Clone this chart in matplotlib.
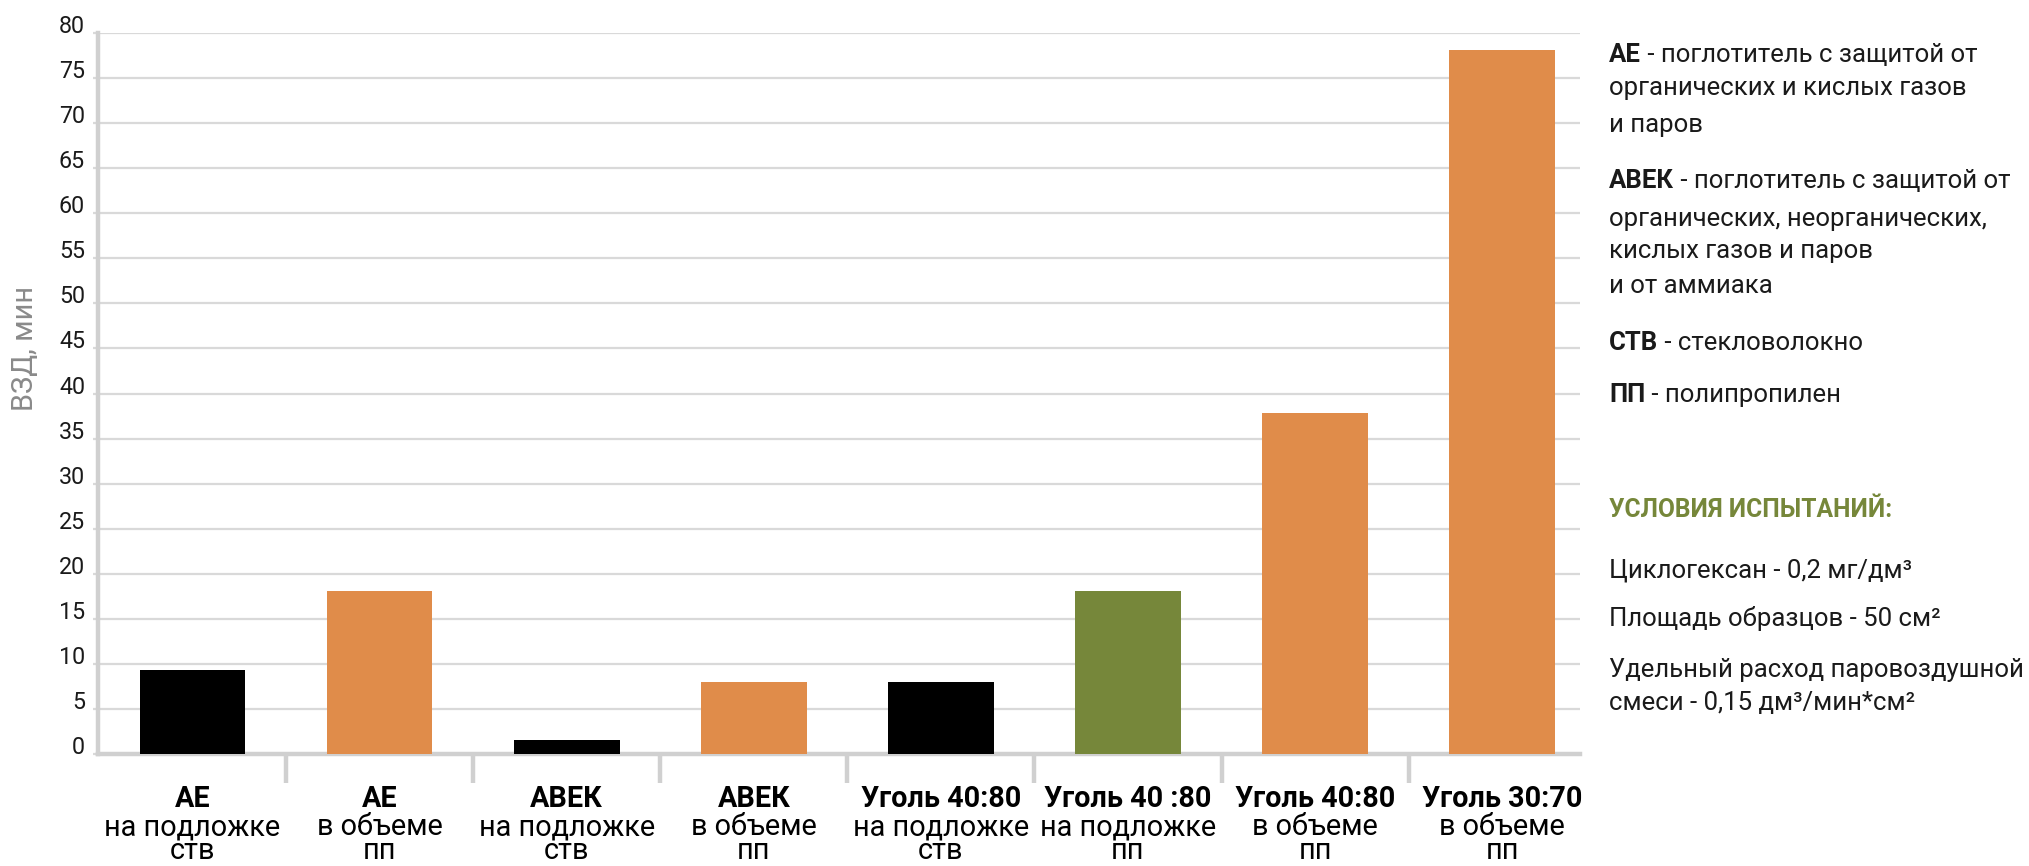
import matplotlib
matplotlib.use('Agg')
import matplotlib.pyplot as plt
from matplotlib.transforms import blended_transform_factory
import numpy as np

# ---------------- data ----------------
cat_bold = ['АЕ', 'АЕ', 'АВЕК', 'АВЕК', 'Уголь 40:80', 'Уголь 40 :80', 'Уголь 40:80', 'Уголь 30:70']
cat_line2 = ['на подложке', 'в объеме', 'на подложке', 'в объеме', 'на подложке', 'на подложке', 'в объеме', 'в объеме']
cat_line3 = ['ств', 'пп', 'ств', 'пп', 'ств', 'пп', 'пп', 'пп']
values = [9.3, 18.1, 1.5, 8.0, 8.0, 18.1, 37.8, 78.1]
bar_colors = ['#000000', '#E08C4A', '#000000', '#E08C4A', '#000000', '#76873A', '#E08C4A', '#E08C4A']
y_ticks = list(range(0, 81, 5))
y_label = 'ВЗД, мин'

legend_bold = ['АЕ', '', '', 'АВЕК', '', '', '', 'СТВ', 'ПП']
legend_rest = [' - поглотитель с защитой от', 'органических и кислых газов', 'и паров',
               ' - поглотитель с защитой от', 'органических, неорганических,',
               'кислых газов и паров', 'и от аммиака', ' - стекловолокно', ' - полипропилен']
cond_title = 'УСЛОВИЯ ИСПЫТАНИЙ:'
cond_lines = ['Циклогексан - 0,2 мг/дм³', 'Площадь образцов - 50 см²',
              'Удельный расход паровоздушной', 'смеси - 0,15 дм³/мин*см²']

# ---------------- layout ----------------
W, H = 2029, 866
FONT = 'Roboto'
plt.rcParams['font.family'] = [FONT, 'DejaVu Sans']
TXT = '#1a1a1a'
GRID = '#d9d9d9'
AXC = '#d0d0d0'

fig = plt.figure(figsize=(W / 100, H / 100), dpi=100)
fig.patch.set_facecolor('white')
ax = fig.add_axes([98 / W, 1 - 754 / H, (1580 - 98) / W, (754 - 33) / H])

x = np.arange(len(values))
ax.bar(x, values, width=0.565, color=bar_colors, zorder=3)
ax.set_xlim(-0.505, 7.416)
ax.set_ylim(0, 80)
ax.set_yticks(y_ticks)
ax.yaxis.grid(True, color=GRID, lw=1.6)
ax.set_axisbelow(True)
ax.tick_params(axis='y', length=3.5, width=1.6, color=GRID, labelleft=False)
for s in ['top', 'right']:
    ax.spines[s].set_visible(False)
for s in ['left', 'bottom']:
    ax.spines[s].set_color(AXC)
    ax.spines[s].set_linewidth(3.2)
ax.set_xticks(x)
ax.tick_params(axis='x', which='major', length=0, labelbottom=False)
ax.set_xticks(np.arange(0.5, len(values) - 1, 1), minor=True)
ax.tick_params(axis='x', which='minor', length=21, width=3.2, color=AXC, direction='out')

fig.canvas.draw()
renderer = fig.canvas.get_renderer()


def fit(text, target, weight='normal', base=20.0):
    t = fig.text(0, 0, text, fontsize=base, fontweight=weight)
    w = t.get_window_extent(renderer).width
    t.remove()
    return base * target / w


s_cat = fit('на подложке', 176)
s_catb = fit('Уголь 40:80', 160, 'bold')
s_leg = fit('Удельный расход паровоздушной', 415)
s_tick = fit('80', 26)
s_title = fit(cond_title, 283, 'bold')
s_ylab = fit(y_label, 125)

# y tick labels
for v in y_ticks:
    ax.text(-13 / 1482, v, str(v), transform=ax.get_yaxis_transform(), ha='right',
            va='baseline', fontsize=s_tick, color=TXT)

# category labels
tr = blended_transform_factory(ax.transData, fig.transFigure)
for i in range(len(values)):
    ax.text(x[i], 1 - 807 / H, cat_bold[i], transform=tr, ha='center', va='baseline',
            fontsize=s_catb, fontweight='bold', color='black')
    ax.text(x[i], 1 - 835 / H, cat_line2[i], transform=tr, ha='center', va='baseline',
            fontsize=s_cat, color='black')
    ax.text(x[i], 1 - 859 / H, cat_line3[i], transform=tr, ha='center', va='baseline',
            fontsize=s_cat, color='black')

# y label
fig.text(25 / W, 1 - 348 / H, y_label, rotation=90, ha='center', va='center',
         fontsize=s_ylab, color='#8a8a8a')

# legend text
x0 = 1609
leg_base = [62, 95, 132, 188, 226, 258, 293, 350, 402]
for b, r, yb in zip(legend_bold, legend_rest, leg_base):
    xx = x0
    if b:
        tb = fig.text(xx / W, 1 - yb / H, b, fontsize=s_leg, fontweight='bold',
                      va='baseline', ha='left', color=TXT)
        xx += tb.get_window_extent(renderer).width
    fig.text(xx / W, 1 - yb / H, r, fontsize=s_leg, va='baseline', ha='left', color=TXT)

fig.text(x0 / W, 1 - 517 / H, cond_title, fontsize=s_title, fontweight='bold',
         va='baseline', ha='left', color='#76873A')
for line, yb in zip(cond_lines, [577, 626, 677, 710]):
    fig.text(x0 / W, 1 - yb / H, line, fontsize=s_leg, va='baseline', ha='left', color=TXT)

fig.savefig('out.png', dpi=100, facecolor='white')
